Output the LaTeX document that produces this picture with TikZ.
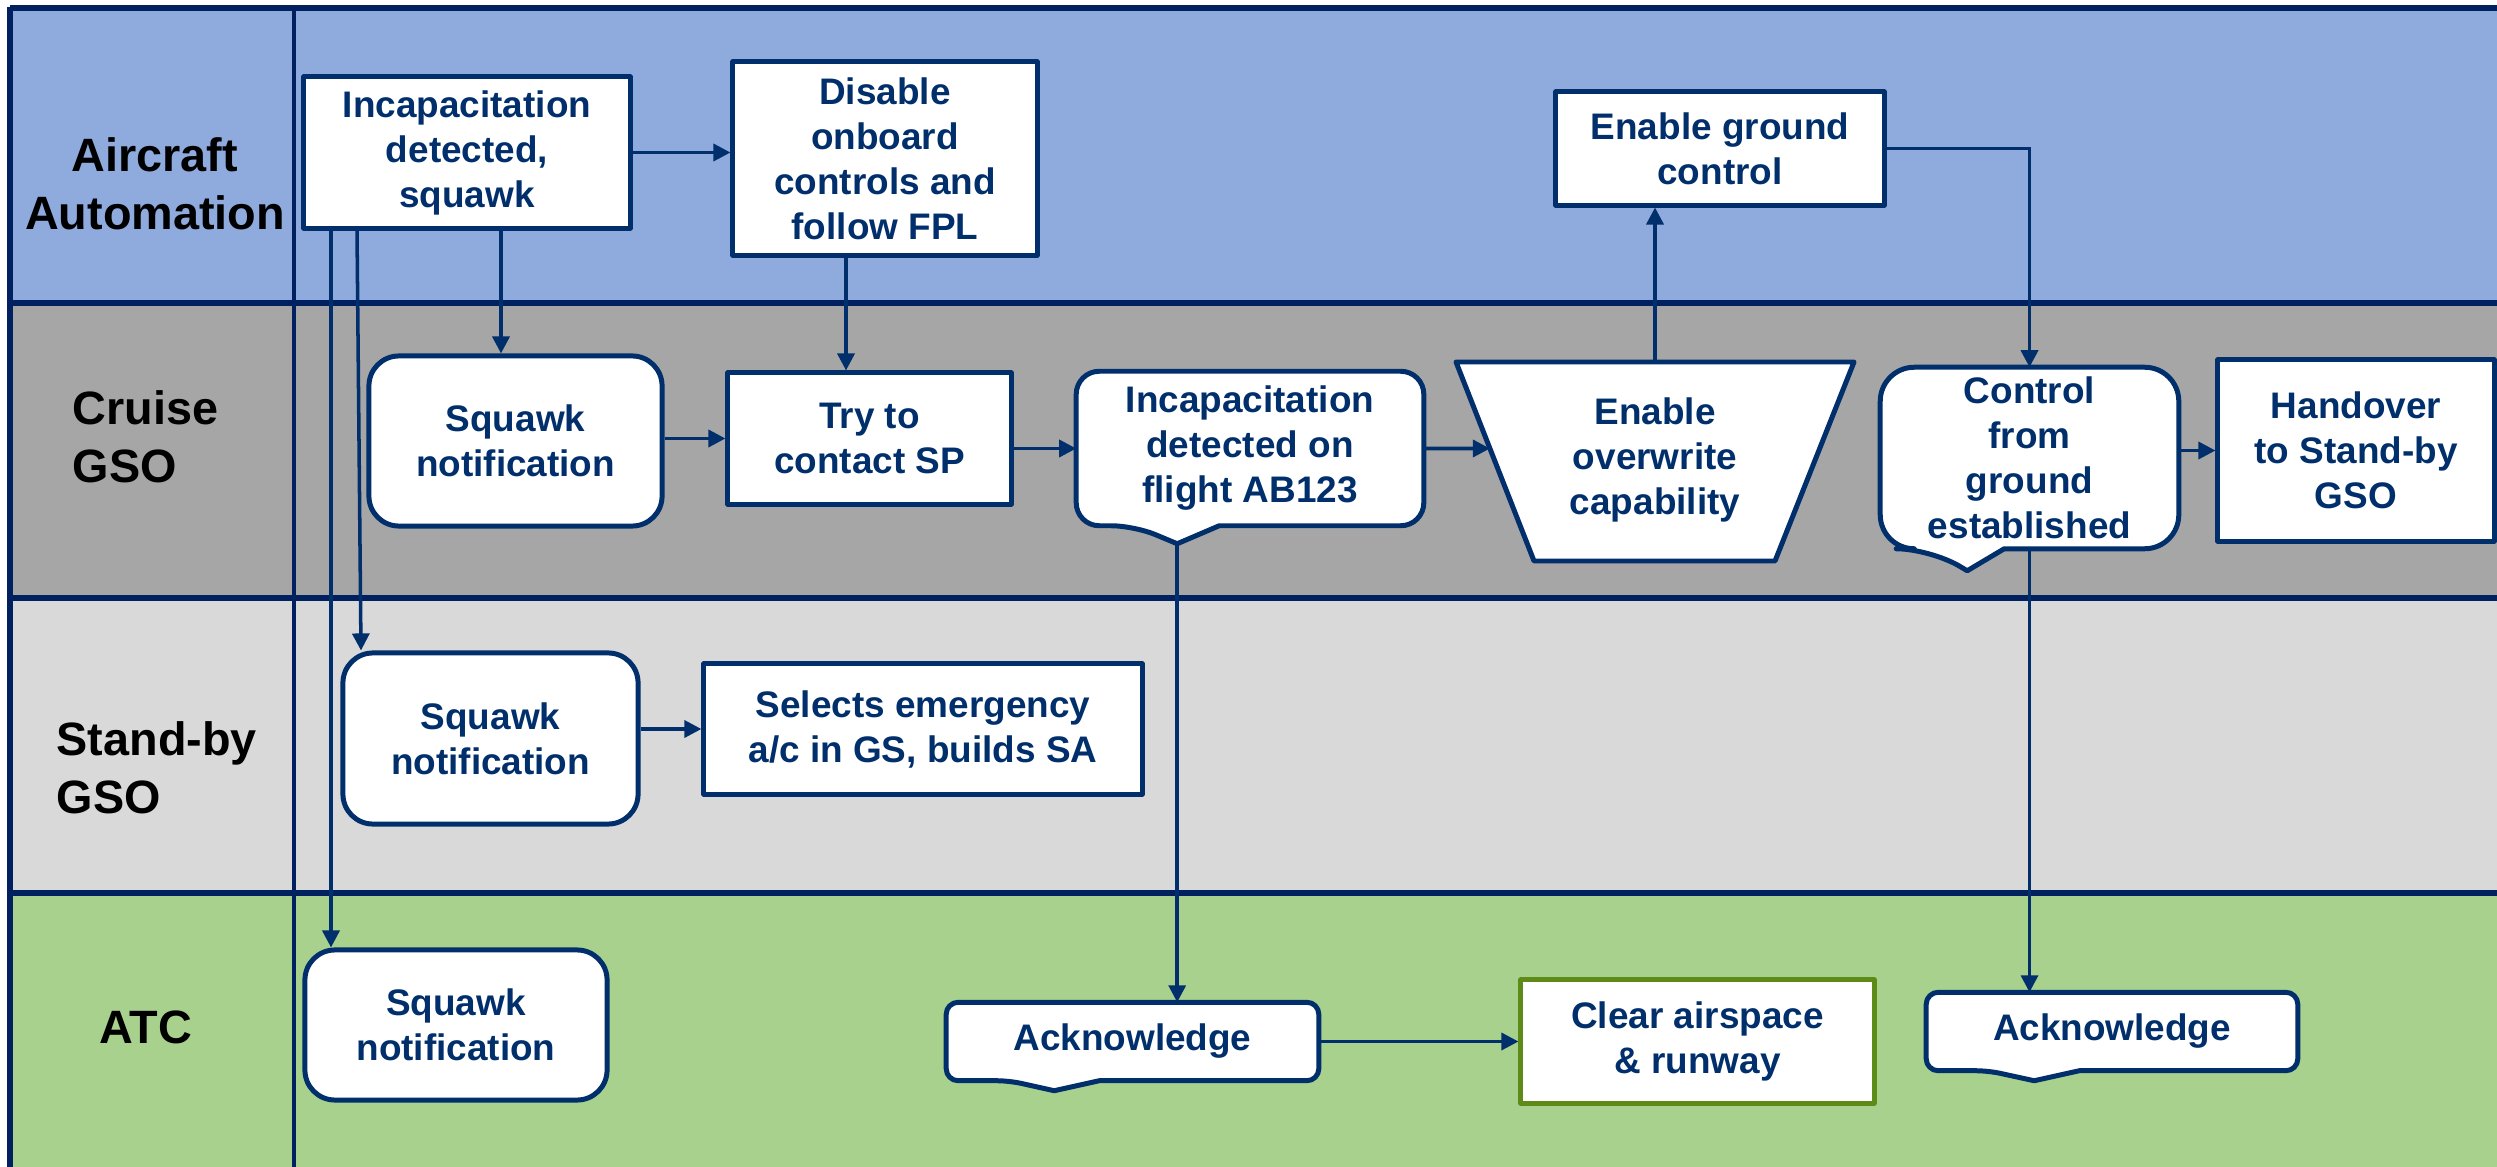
\documentclass[tikz,border=0pt]{standalone}
\usepackage{fontspec}
\setmainfont{Liberation Sans}
\usetikzlibrary{arrows.meta,calc}
\definecolor{navy}{RGB}{0,47,108}
\definecolor{framec}{RGB}{0,32,96}
\definecolor{laneA}{RGB}{143,170,220}
\definecolor{laneB}{RGB}{166,166,166}
\definecolor{laneC}{RGB}{217,217,217}
\definecolor{laneD}{RGB}{169,209,142}
\definecolor{greenedge}{RGB}{94,138,24}
\pgfdeclarelayer{back}
\pgfdeclarelayer{mid}
\pgfsetlayers{back,mid,main}

\begin{document}
\begin{tikzpicture}[x=0.01cm,y=-0.01cm,
  boxtext/.style={font=\fontsize{10.5}{12.8}\selectfont\bfseries, text=navy, align=center, inner sep=0pt},
  box/.style={boxtext, draw=navy, fill=white, line width=1.42pt, line join=round},
  rbox/.style={box, rounded corners=0.3cm},
  shapeline/.style={draw=navy, fill=white, line width=1.42pt, line join=round},
  lanetext/.style={font=\fontsize{13.3}{16.5}\selectfont\bfseries, text=black, inner sep=0pt},
  conn/.style={draw=navy, line width=1pt},
  arr/.style={conn, -{Triangle[length=0.17cm,width=0.17cm]}},
  laneline/.style={draw=framec, line width=1.6pt},
]
\useasboundingbox (0,0) rectangle (2497,1167);

% swimlanes
\begin{pgfonlayer}{back}
  \fill[white] (0,0) rectangle (2497,1167);
  \fill[laneA] (10,8) rectangle (2497,303);
  \fill[laneB] (10,303) rectangle (2497,598);
  \fill[laneC] (10,598) rectangle (2497,893);
  \fill[laneD] (10,893) rectangle (2497,1167);
  \draw[laneline] (10,8) -- (2497,8);
  \draw[laneline] (10,303) -- (2497,303);
  \draw[laneline] (10,598) -- (2497,598);
  \draw[laneline] (10,893) -- (2497,893);
  \draw[laneline] (10,7) -- (10,1167);
  \draw[framec, line width=1pt] (294,8) -- (294,1167);
\end{pgfonlayer}

% lane titles
\node[lanetext, align=center] (lA) at (155,184) {Aircraft\\Automation};
\node[lanetext, align=left, anchor=west] (lB) at (72,437) {Cruise\\GSO};
\node[lanetext, align=left, anchor=west] (lC) at (56,768) {Stand-by\\GSO};
\node[lanetext] (lD) at (146,1027) {ATC};

% Aircraft Automation
\node[box, minimum width=3.26cm, minimum height=1.51cm] (aa1) at (467,152.5) {Incapacitation\\detected,\\squawk};
\node[box, minimum width=3.04cm, minimum height=1.93cm] (dis) at (885,158.5) {Disable\\onboard\\controls and\\follow FPL};
\node[box, minimum width=3.28cm, minimum height=1.13cm] (egc) at (1720,148.5) {Enable ground\\control};

% Cruise GSO
\node[rbox, minimum width=2.93cm, minimum height=1.70cm] (sqc) at (515.5,441) {Squawk\\notification};
\node[box, minimum width=2.83cm, minimum height=1.31cm] (try) at (869.5,438.5) {Try to\\contact SP};
\node[boxtext, minimum width=3.46cm, minimum height=1.53cm] (inc) at (1250,448.5) {Incapacitation\\detected on\\flight AB123};
\coordinate (ovrTL) at (1456,362);
\coordinate (ovrTR) at (1854,362);
\coordinate (ovrBR) at (1775,561);
\coordinate (ovrBL) at (1534,561);
\node[boxtext] (ovr) at (1655,460) {Enable\\overwrite\\capability};
\node[boxtext, minimum width=2.97cm, minimum height=1.80cm] (ctl) at (2029.5,458) {Control\\from\\ground\\established};
\node[box, minimum width=2.76cm, minimum height=1.81cm] (hand) at (2356,450.5) {Handover\\to Stand-by\\GSO};

% Stand-by GSO
\node[rbox, minimum width=2.95cm, minimum height=1.71cm] (sqs) at (490.5,738.5) {Squawk\\notification};
\node[box, minimum width=4.38cm, minimum height=1.30cm] (sel) at (923,729) {Selects emergency\\a/c in GS, builds SA};

% ATC
\node[rbox, minimum width=3.02cm, minimum height=1.50cm] (sqa) at (456,1025) {Squawk\\notification};
\node[boxtext, minimum width=3.71cm, minimum height=0.77cm] (ack1) at (1132.5,1041.5) {Acknowledge};
\node[box, draw=greenedge, minimum width=3.53cm, minimum height=1.23cm] (clr) at (1697.5,1041.5) {Clear airspace\\\& runway};
\node[boxtext, minimum width=3.70cm, minimum height=0.77cm] (ack2) at (2112,1031.5) {Acknowledge};

% outlines of the trapezoid and of the callout boxes with a pointer
\begin{pgfonlayer}{mid}
  \draw[shapeline] (ovrTL) -- (ovrTR) -- (ovrBR) -- (ovrBL) -- cycle;

  \path (inc.south west) ++(58,0) coordinate (incL)
        (inc.south west) ++(143,0) coordinate (incR)
        (inc.south west) ++(101,18) coordinate (incT);
  \draw[shapeline] (incR) [rounded corners=0.23cm] -- (inc.south east) -- (inc.north east)
        -- (inc.north west) -- (inc.south west) -- (incL) [sharp corners] -- (incT) -- cycle;

  \path (ctl.south west) ++(50,0) coordinate (ctlL)
        (ctl.south west) ++(124,0) coordinate (ctlR)
        (ctl.south west) ++(87,22) coordinate (ctlT);
  \draw[shapeline] (ctlR) [rounded corners=0.34cm] -- (ctl.south east) -- (ctl.north east)
        -- (ctl.north west) -- (ctl.south west) -- (ctlL) [sharp corners] -- (ctlT) -- cycle;

  \path (ack1.south west) ++(63,0) coordinate (ackaL)
        (ack1.south west) ++(153,0) coordinate (ackaR)
        (ack1.south west) ++(108,10) coordinate (ackaT);
  \draw[shapeline] (ackaR) [rounded corners=0.12cm] -- (ack1.south east) -- (ack1.north east)
        -- (ack1.north west) -- (ack1.south west) -- (ackaL) [sharp corners] -- (ackaT) -- cycle;

  \path (ack2.south west) ++(62,0) coordinate (ackbL)
        (ack2.south west) ++(153,0) coordinate (ackbR)
        (ack2.south west) ++(108,10) coordinate (ackbT);
  \draw[shapeline] (ackbR) [rounded corners=0.12cm] -- (ack2.south east) -- (ack2.north east)
        -- (ack2.north west) -- (ack2.south west) -- (ackbL) [sharp corners] -- (ackbT) -- cycle;
\end{pgfonlayer}

% tap points for the vertical connectors
\coordinate (tapA) at (501,0);
\coordinate (tapB) at (357,0);
\coordinate (tapC) at (361,0);
\coordinate (tapD) at (331,0);
\coordinate (tapE) at (846,0);
\coordinate (ovrL) at ($(ovrTL)!0.4347!(ovrBL)$);
\coordinate (ovrT) at ($(ovrTL)!0.5!(ovrTR)$);

% connectors
\draw[arr] (aa1.east) -- (aa1.east -| dis.west);
\draw[arr] (aa1.south -| tapA) -- (sqc.north -| tapA);
\draw[arr] (aa1.south -| tapB) -- (sqs.north -| tapC);
\draw[arr] (aa1.south -| tapD) -- (sqa.north -| tapD);
\draw[arr] (dis.south -| tapE) -- (try.north -| tapE);
\draw[arr] (sqc.east |- try.west) -- (try.west);
\draw[arr] (try.east |- inc.west) -- (inc.west);
\draw[arr] (inc.east) -- (ovrL);
\draw[arr] (ovrT) -- (egc.south -| ovrT);
\draw[arr] (egc.east) -| (ctl.north);
\draw[arr] (ctl.east |- hand.west) -- (hand.west);
\draw[arr] (incT) -- (ack1.north -| incT);
\draw[arr] (ack1.east |- clr.west) -- (clr.west);
\draw[arr] (ctl.south) -- (ack2.north -| ctl.south);
\draw[arr] (sqs.east |- sel.west) -- (sel.west);
\end{tikzpicture}
\end{document}
